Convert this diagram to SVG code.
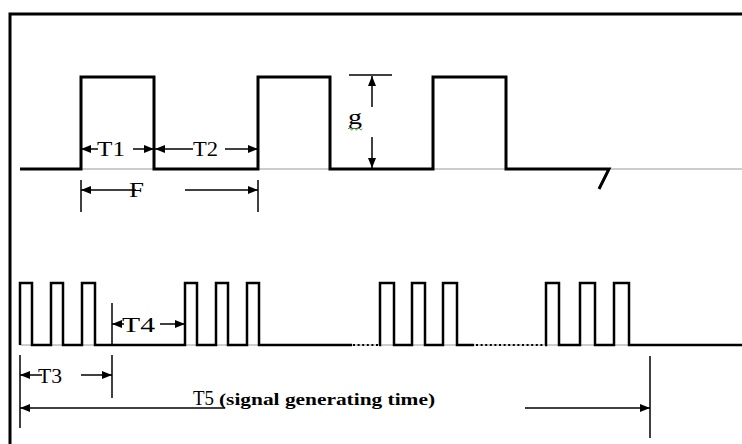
<svg xmlns="http://www.w3.org/2000/svg" width="742" height="444" viewBox="0 0 742 444">
<defs>
<marker id="ah" viewBox="0 0 10 8" refX="10" refY="4" markerWidth="10" markerHeight="8" markerUnits="userSpaceOnUse" orient="auto">
<path d="M0,0 L10,4 L0,8 Z" fill="#000"/>
</marker>
</defs>
<style>
.sig{fill:none;stroke:#000;stroke-width:3;stroke-linejoin:miter}
.sig2{fill:none;stroke:#000;stroke-width:2.5;stroke-linejoin:miter}
.base{fill:none;stroke:#9a9a9a;stroke-width:1}
.dot{fill:none;stroke:#000;stroke-width:2.2;stroke-dasharray:2 2.6}
.dim{fill:none;stroke:#000;stroke-width:1.5}
.arr{fill:none;stroke:#000;stroke-width:1.5;marker-end:url(#ah)}
.lbl{font-family:"Liberation Serif","Times New Roman",serif;font-size:20px;fill:#000}
.bold{font-family:"Liberation Serif","Times New Roman",serif;font-size:17px;font-weight:bold;fill:#000}
</style>
<rect x="0" y="0" width="742" height="444" fill="#fff"/>
<g id="frame">
<path d="M10,444 V14 H742" fill="none" stroke="#000" stroke-width="3"/>
</g>
<g id="top-signal">
<line class="base" x1="20" y1="169" x2="742" y2="169"/>
<path class="sig" d="M20,169 H81 V77 H154 V169 H258 V77 H330 V169 H433 V77 H506 V169 H609 L599,189"/>
</g>
<g id="bottom-signal">
<line class="base" x1="20" y1="345" x2="742" y2="345"/>
<path class="sig2" d="M20,345 V283 H32 V345 H51 V283 H63 V345 H82 V283 H95 V345 H185 V283 H197 V345 H216 V283 H228 V345 H247 V283 H259 V345 H352"/>
<line class="dot" x1="353" y1="345" x2="379" y2="345"/>
<path class="sig2" d="M379,345 H380 V283 H394 V345 H412 V283 H425 V345 H443 V283 H457 V345 H474"/>
<line class="dot" x1="476" y1="345" x2="545" y2="345"/>
<path class="sig2" d="M545,345 H546 V283 H559 V345 H580 V283 H595 V345 H614 V283 H629 V345 H742"/>
</g>
<g id="connectors">
<!-- T1 -->
<line class="arr" x1="98" y1="149" x2="81" y2="149"/>
<line class="arr" x1="133" y1="149" x2="154" y2="149"/>
<!-- T2 -->
<line class="arr" x1="193" y1="149" x2="155" y2="149"/>
<line class="arr" x1="225" y1="149" x2="258" y2="149"/>
<!-- F -->
<line class="dim" x1="81" y1="180" x2="81" y2="212"/>
<line class="dim" x1="258" y1="180" x2="258" y2="212"/>
<line class="arr" x1="136" y1="190" x2="81" y2="190"/>
<line class="arr" x1="185" y1="190" x2="258" y2="190"/>
<!-- g -->
<line class="dim" x1="349" y1="75" x2="392" y2="75"/>
<line class="arr" x1="372" y1="107" x2="372" y2="76"/>
<line class="arr" x1="372" y1="137" x2="372" y2="168"/>
<!-- T4 -->
<line class="dim" x1="112" y1="303" x2="112" y2="345"/>
<line class="arr" x1="124" y1="324" x2="112" y2="324"/>
<line class="arr" x1="160" y1="324" x2="185" y2="324"/>
<!-- T3 -->
<line class="dim" x1="20" y1="355" x2="20" y2="428"/>
<line class="dim" x1="112" y1="355" x2="112" y2="398"/>
<line class="arr" x1="42" y1="375" x2="20" y2="375"/>
<line class="arr" x1="81" y1="375" x2="112" y2="375"/>
<!-- T5 -->
<line class="dim" x1="650" y1="356" x2="650" y2="438"/>
<line class="arr" x1="225" y1="408" x2="20" y2="408"/>
<line class="arr" x1="525" y1="408" x2="650" y2="408"/>
</g>
<g id="labels">
<text class="lbl" x="97" y="156" textLength="28" lengthAdjust="spacingAndGlyphs">T1</text>
<text class="lbl" x="193" y="156" textLength="25" lengthAdjust="spacingAndGlyphs">T2</text>
<text class="lbl" x="129" y="197" textLength="15" lengthAdjust="spacingAndGlyphs">F</text>
<text class="lbl" x="348" y="124" textLength="14" lengthAdjust="spacingAndGlyphs">g</text>
<path d="M348,129 q1.2,-2 2.4,0 t2.4,0 t2.4,0 t2.4,0 t2.4,0 t2.4,0" fill="none" stroke="#3a9a3a" stroke-width="1"/>
<text class="lbl" x="122" y="332" textLength="33" lengthAdjust="spacingAndGlyphs">T4</text>
<text class="lbl" x="38" y="383" textLength="24" lengthAdjust="spacingAndGlyphs">T3</text>
<text class="lbl" x="193" y="405" textLength="21" lengthAdjust="spacingAndGlyphs">T5</text>
<text class="bold" x="219" y="405" textLength="216" lengthAdjust="spacingAndGlyphs">(signal generating time)</text>
</g>
</svg>
